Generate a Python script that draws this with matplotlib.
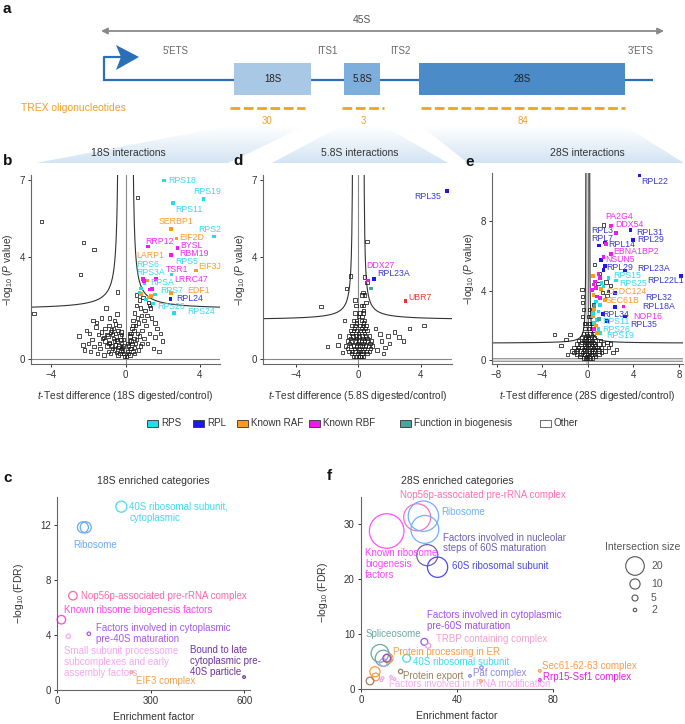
import numpy as np
import matplotlib
matplotlib.use('Agg')
import matplotlib.pyplot as plt
from matplotlib.patches import Rectangle, Polygon
from matplotlib.colors import LinearSegmentedColormap

plt.rcParams['font.family'] = ['Liberation Sans', 'DejaVu Sans']
plt.rcParams['mathtext.fontset'] = 'custom'
plt.rcParams['mathtext.rm'] = 'Liberation Sans'
plt.rcParams['mathtext.it'] = 'Liberation Sans:italic'

# ---------------- data ----------------
oligo_regions = ['18S', '5.8S', '28S']
oligo_counts = [30, 3, 84]

cat_names = ['RPS', 'RPL', 'Known RAF', 'Known RBF', 'Function in biogenesis', 'Other']
cat_colors = {'RPS': '#1fe0ea', 'RPL': '#1a1af0', 'RAF': '#ff9a1f',
              'RBF': '#f01af0', 'BIO': '#4aa39c', 'UBR': '#ee3030'}
txt_colors = {'RPS': '#3ad8ee', 'RPL': '#3a3ad6', 'RAF': '#ff9a2a',
              'RBF': '#ee30ee', 'BIO': '#4aa39c', 'UBR': '#ee3b3b'}

# 18S volcano: significant hits
b_pt_x = [2.08, 4.21, 2.58, 2.44, 4.77, 2.76, 1.22, 2.80, 2.44, 3.82, 2.48, 1.65, 0.95, 2.44, 2.42, 1.49, 2.60,
          0.83, 0.85, 1.18, 1.33, 1.44, 1.38, 1.58, 1.10, 1.02, 1.25, 0.75, 1.00]
b_pt_y = [6.99, 6.25, 6.10, 5.08, 4.79, 4.72, 4.40, 4.35, 4.07, 3.46, 3.30, 3.12, 3.14, 2.58, 2.35, 2.17, 1.80,
          2.75, 2.55, 3.07, 2.72, 2.74, 2.45, 2.52, 2.32, 2.95, 2.40, 2.60, 3.05]
b_pt_cat = ['RPS', 'RPS', 'RPS', 'RAF', 'RPS', 'RAF', 'RBF', 'RBF', 'RBF', 'RAF', 'RPS', 'RBF', 'RBF', 'RAF', 'RPL', 'RPS', 'RPS',
            'RPS', 'RAF', 'RAF', 'RBF', 'RBF', 'RAF', 'RPS', 'RPS', 'RPS', 'RAF', 'RPS', 'RBF']
b_lab = ['RPS18', 'RPS19', 'RPS11', 'SERBP1', 'RPS2', 'EIF2D', 'RRP12', 'BYSL', 'LARP1', 'RBM19', 'RPS5', 'RPS6',
         'EIF3J', 'TSR1', 'RPS3A', 'LRRC47', 'RPSA', 'RPS7', 'EDF1', 'RPL24', 'RPS26', 'RPS24']
b_lab_cat = ['RPS', 'RPS', 'RPS', 'RAF', 'RPS', 'RAF', 'RBF', 'RBF', 'RAF', 'RBF', 'RPS', 'RPS',
             'RAF', 'RBF', 'RPS', 'RBF', 'RPS', 'RPS', 'RAF', 'RPL', 'RPS', 'RPS']

b_other = [(-4.52, 5.37), (-2.27, 4.56), (-1.7, 4.28), (-2.42, 3.3), (-4.94, 1.78), (0.65, 6.32), (-0.43, 2.62), (1.3, 2.1),
           (-2.5, 0.9), (-2.3, 0.55), (-2.1, 1.1), (-2.0, 0.61), (-1.95, 1.0), (-1.9, 0.3), (-1.8, 0.75), (-1.7, 0.48),
           (-1.6, 1.25), (-1.56, 1.43), (-1.5, 0.2), (-1.45, 0.95), (-1.4, 0.61), (-1.38, 0.4), (-1.3, 1.6), (-1.25, 0.8),
           (-1.2, 0.84), (-1.15, 0.15), (-1.1, 1.2), (-1.05, 2.0), (-1.0, 0.5), (-0.95, 0.9), (-0.93, 0.28), (-0.9, 1.3),
           (-0.85, 0.65), (-0.8, 1.05), (-0.75, 1.13), (-0.7, 0.4), (-0.65, 0.8), (-0.6, 1.5), (-0.55, 1.0), (-0.53, 1.36),
           (-0.5, 0.25), (-0.45, 0.7), (-0.4, 1.1), (-0.35, 0.5), (-0.3, 0.9), (-0.25, 0.35), (-0.2, 0.6), (-0.15, 0.3),
           (-0.1, 0.2), (-0.05, 0.1), (-0.9, 0.6), (-0.7, 0.95), (-0.6, 0.35), (-0.5, 0.75), (-0.4, 0.45), (-0.3, 0.2),
           (-0.2, 0.95), (-0.1, 0.5), (-0.35, 1.3), (-0.25, 0.75), (-0.15, 0.45), (-1.1, 0.7), (-0.8, 0.2), (-1.3, 1.05),
           (-0.65, 1.2), (-2.2, 0.35), (-1.75, 1.5), (-0.45, 1.75), (-0.85, 1.6), (-0.55, 0.55), (-0.25, 1.05),
           (-0.75, 0.5), (-1.0, 0.95), (-0.4, 0.15), (-0.2, 0.4), (-0.1, 0.75), (-0.6, 0.7),
           (0.05, 0.1), (0.1, 0.3), (0.15, 0.5), (0.2, 0.7), (0.25, 0.9), (0.3, 0.4), (0.35, 1.2), (0.4, 1.5), (0.45, 0.8),
           (0.5, 1.8), (0.55, 0.6), (0.6, 2.1), (0.65, 1.0), (0.7, 1.4), (0.75, 2.3), (0.8, 0.5), (0.85, 1.7), (0.9, 1.1),
           (0.95, 2.4), (1.0, 0.8), (1.05, 1.9), (1.1, 1.3), (1.2, 0.6), (1.25, 2.2), (1.3, 1.0), (1.4, 1.6), (1.5, 0.4),
           (1.6, 0.85), (1.7, 1.2), (1.8, 0.3), (2.0, 0.7), (0.5, 0.2), (0.6, 2.5), (0.7, 0.35), (0.8, 2.0), (0.9, 0.6),
           (1.0, 1.5), (0.15, 0.2), (0.25, 0.4), (0.3, 0.7), (0.4, 0.3), (0.45, 1.1), (0.55, 1.3), (0.2, 1.0), (0.35, 0.6),
           (1.15, 1.7), (1.35, 2.0), (1.6, 1.4), (1.9, 1.0), (0.75, 0.9), (0.65, 1.6), (0.1, 0.6), (0.3, 1.0),
           (0.5, 0.45), (0.25, 0.15), (0.6, 0.75), (0.4, 1.3)]

# 5.8S volcano
d_pt_x = [5.68, 0.61, 0.99, 0.82, 3.02]
d_pt_y = [6.58, 3.07, 3.14, 2.75, 2.27]
d_pt_cat = ['RPL', 'RBF', 'RPL', 'BIO', 'UBR']
d_lab = ['RPL35', 'DDX27', 'RPL23A', 'UBR7']
d_lab_cat = ['RPL', 'RBF', 'RPL', 'UBR']

d_other = [(0.55, 4.59), (-2.38, 2.04), (4.2, 1.3), (3.28, 1.18), (-1.96, 0.48), (-0.76, 2.75), (-0.48, 3.25), (2.3, 1.06),
           (1.4, 0.98), (2.0, 0.6), (1.7, 0.45), (2.6, 0.85), (1.2, 0.35), (0.9, 0.5), (-1.2, 0.9), (-1.0, 0.25),
           (-1.3, 0.55), (0.4, 3.2), (0.55, 3.0), (0.3, 2.6), (-0.2, 2.3), (0.5, 2.2), (0.35, 1.9), (-0.9, 1.5), (1.1, 1.2),
           (1.6, 0.2), (1.5, 0.7), (1.9, 0.9), (2.9, 0.7),
           (-0.3, 0.1), (-0.15, 0.1), (0.0, 0.1), (0.1, 0.1), (0.2, 0.1), (0.35, 0.1),
           (-0.6, 0.3), (-0.4, 0.3), (-0.2, 0.3), (0.0, 0.3), (0.15, 0.3), (0.3, 0.3), (0.5, 0.3), (0.7, 0.3),
           (-0.8, 0.5), (-0.5, 0.5), (-0.3, 0.5), (-0.1, 0.5), (0.1, 0.5), (0.25, 0.5), (0.45, 0.5), (0.65, 0.5),
           (-0.7, 0.7), (-0.4, 0.7), (-0.2, 0.7), (0.0, 0.7), (0.2, 0.7), (0.4, 0.7), (0.6, 0.7), (0.85, 0.7),
           (-0.6, 0.9), (-0.35, 0.9), (-0.15, 0.9), (0.05, 0.9), (0.25, 0.9), (0.45, 0.9), (0.7, 0.9),
           (-0.5, 1.1), (-0.3, 1.1), (-0.1, 1.1), (0.15, 1.1), (0.35, 1.1), (0.55, 1.1),
           (-0.4, 1.3), (-0.2, 1.3), (0.1, 1.3), (0.3, 1.3), (0.5, 1.3),
           (-0.3, 1.5), (-0.1, 1.5), (0.2, 1.5), (0.4, 1.5),
           (-0.2, 1.8), (0.1, 1.8), (0.3, 1.8), (-0.15, 2.1), (0.2, 2.1), (0.35, 2.1), (0.25, 2.5), (0.4, 2.5),
           (-0.45, 0.2), (-0.05, 0.2), (0.25, 0.2), (0.55, 0.2), (-0.7, 0.4), (-0.25, 0.4), (0.05, 0.4), (0.4, 0.4),
           (0.8, 0.4), (-0.55, 0.6), (-0.05, 0.6), (0.3, 0.6), (0.75, 0.6), (-0.5, 0.8), (-0.1, 0.8), (0.3, 0.8),
           (0.55, 0.8), (-0.4, 1.0), (0.0, 1.0), (0.4, 1.0), (-0.25, 1.2), (0.2, 1.2), (0.45, 1.2), (-0.1, 1.4),
           (0.35, 1.4), (0.0, 1.65), (0.25, 1.65)]

# 28S volcano
e_pt = [(4.53, 10.65, 'RPL'), (2.04, 7.76, 'RBF'), (2.48, 7.32, 'RBF'), (3.74, 7.51, 'RPL'), (3.94, 6.94, 'RPL'),
        (1.52, 6.78, 'RPL'), (0.99, 6.61, 'RPL'), (1.6, 6.7, 'RBF'), (2.02, 6.11, 'RBF'), (1.14, 5.78, 'RPL'),
        (1.37, 5.93, 'RBF'), (1.52, 5.43, 'RPL'), (1.37, 5.2, 'RPL'), (3.27, 5.16, 'RPL'), (8.19, 4.86, 'RPL'),
        (0.44, 4.86, 'RAF'), (0.93, 4.97, 'RBF'), (1.08, 4.72, 'RBF'), (1.81, 4.72, 'RPS'), (2.48, 4.59, 'RPS'),
        (0.49, 4.34, 'RBF'), (0.73, 4.14, 'RBF'), (1.14, 4.08, 'RAF'), (1.37, 4.24, 'RPS'), (1.81, 3.95, 'RPL'),
        (2.4, 3.85, 'RPL'), (0.79, 3.66, 'RBF'), (0.5, 3.76, 'RAF'), (1.08, 3.56, 'RBF'), (1.52, 3.47, 'RAF'),
        (0.73, 3.37, 'RPS'), (3.12, 3.08, 'RBF'), (2.4, 3.04, 'RPL'), (1.08, 3.18, 'RPS'), (0.55, 2.93, 'RAF'),
        (0.93, 2.79, 'RPS'), (1.31, 2.64, 'RPL'), (0.44, 2.5, 'RAF'), (3.27, 2.5, 'RPL'), (0.79, 2.31, 'RPS'),
        (0.55, 2.12, 'RPS'), (0.73, 1.97, 'RAF'), (0.93, 1.77, 'RPS'), (0.55, 1.77, 'RBF'), (1.08, 1.54, 'RPS'),
        (0.79, 1.54, 'RAF'), (1.66, 2.22, 'RPL'), (0.44, 2.7, 'RPS'), (0.35, 4.05, 'RBF'), (0.64, 4.53, 'RBF'),
        (1.2, 4.45, 'RPS'), (0.6, 3.1, 'BIO'), (1.0, 2.35, 'BIO')]
e_lab = ['RPL22', 'PA2G4', 'DDX54', 'RPL3', 'RPL31', 'RPL7', 'RPL29', 'RPL14', 'EBNA1BP2', 'NSUN5', 'RPL29',
         'RPL23A', 'RPS15', 'RPL22L1', 'RPS25', 'CCDC124', 'RPL32', 'SEC61B', 'RPL18A', 'NOP16', 'RPL34', 'RPL35',
         'RPS11', 'RPS26', 'RPS19']
e_lab_cat = ['RPL', 'RBF', 'RBF', 'RPL', 'RPL', 'RPL', 'RPL', 'RPL', 'RBF', 'RBF', 'RPL',
             'RPL', 'RPS', 'RPL', 'RPS', 'RAF', 'RPL', 'RAF', 'RPL', 'RBF', 'RPL', 'RPL',
             'RPS', 'RPS', 'RPS']

e_other = [(-2.93, 1.45), (-1.9, 1.16), (-1.55, 1.45), (-2.34, 0.81), (-0.5, 4.05), (-0.44, 3.66), (-0.44, 3.3),
           (-0.4, 2.9), (-0.45, 2.5), (-0.3, 2.1), (1.37, 7.8), (0.6, 5.5), (0.9, 4.4), (1.3, 3.9), (0.5, 3.2),
           (1.6, 4.5), (1.0, 5.0), (2.0, 4.3), (1.7, 3.7), (2.0, 0.9), (2.5, 0.6), (1.7, 1.0), (2.2, 0.4), (-1.8, 0.3),
           (-0.4, 0.1), (-0.2, 0.1), (0.0, 0.1), (0.2, 0.1), (0.4, 0.1),
           (-1.0, 0.3), (-0.6, 0.3), (-0.3, 0.3), (0.0, 0.3), (0.3, 0.3), (0.6, 0.3), (1.0, 0.3),
           (-1.4, 0.5), (-1.0, 0.5), (-0.6, 0.5), (-0.3, 0.5), (-0.1, 0.5), (0.1, 0.5), (0.3, 0.5), (0.6, 0.5),
           (1.0, 0.5), (1.5, 0.5),
           (-1.2, 0.7), (-0.8, 0.7), (-0.5, 0.7), (-0.2, 0.7), (0.0, 0.7), (0.2, 0.7), (0.5, 0.7), (0.8, 0.7),
           (1.2, 0.7), (1.8, 0.7),
           (-1.0, 0.9), (-0.6, 0.9), (-0.3, 0.9), (-0.1, 0.9), (0.1, 0.9), (0.3, 0.9), (0.6, 0.9), (1.0, 0.9), (1.4, 0.9),
           (-0.8, 1.1), (-0.4, 1.1), (-0.15, 1.1), (0.1, 1.1), (0.35, 1.1), (0.7, 1.1), (1.1, 1.1),
           (-0.5, 1.3), (-0.2, 1.3), (0.05, 1.3), (0.3, 1.3), (0.6, 1.3),
           (-0.35, 1.5), (-0.1, 1.5), (0.2, 1.5), (0.45, 1.5), (-0.25, 1.8), (0.1, 1.8), (0.35, 1.8),
           (-0.2, 2.1), (0.15, 2.1), (0.3, 2.1), (0.1, 2.5), (0.25, 2.5), (0.15, 2.9),
           (-0.7, 0.2), (-0.1, 0.2), (0.1, 0.2), (0.7, 0.2), (-1.2, 0.4), (-0.45, 0.4), (0.15, 0.4), (0.45, 0.4),
           (1.2, 0.4), (-0.9, 0.6), (-0.4, 0.6), (0.4, 0.6), (0.9, 0.6), (-0.3, 0.8), (0.35, 0.8), (0.7, 0.8),
           (-0.5, 1.0), (0.0, 1.0), (0.5, 1.0), (-0.3, 1.2), (0.2, 1.2), (0.0, 1.4)]

# enrichment bubbles, 18S
c_terms = ['40S ribosomal subunit, cytoplasmic', 'Ribosome', 'Ribosome', 'Nop56p-associated pre-rRNA complex',
           'Known ribsome biogenesis factors',
           'Small subunit processome subcomplexes and early assembly factors',
           'Factors involved in cytoplasmic pre-40S maturation', 'EIF3 complex',
           'Bound to late cytoplasmic pre-40S particle']
c_enrich = [206, 83, 92, 51, 14, 36, 102, 238, 599]
c_fdr = [13.3, 11.8, 11.8, 6.84, 5.1, 3.9, 4.08, 1.3, 0.94]
c_size = [11, 11, 11, 8, 8, 3, 2, 1, 1]
c_colors = ['#40dcef', '#6aaaf2', '#6aaaf2', '#ff66aa', '#ff44ee', '#f4a8f0', '#a458f0', '#f5a050', '#7033a0']

# enrichment bubbles, 28S
f_enrich = [10.7, 23.4, 26.0, 26.6, 27.6, 31.9, 7.9, 9.3, 26.4, 28.0, 11.4, 5.8, 6.1, 19.0, 16.5, 45.4, 50.2,
            74.5, 74.5, 9.0, 12.5, 14.0, 8.5, 3.75, 50.0, 9.3, 10.7]
f_fdr = [28.8, 31.3, 31.5, 29.1, 24.4, 22.2, 6.5, 5.6, 8.6, 7.9, 5.6, 3.15, 2.2, 5.6, 3.2, 2.4, 3.9,
         3.3, 1.64, 2.0, 2.2, 1.8, 1.6, 1.46, 1.46, 4.8, 5.6]
f_size = [39, 30, 34, 31, 23, 22, 19, 17, 6, 4, 9, 10, 7, 7, 3, 1, 2,
          1, 1, 1, 1, 1, 1, 7, 1, 7, 7]
f_colors = ['#ff50ff', '#ff70b0', '#70b0ff', '#70b0ff', '#7060b0', '#4a4aee', '#6fa8a0', '#6fa8a0', '#a050f0',
            '#f0a0d0', '#ff9a40', '#ff9a40', '#ff9a40', '#33e0f0', '#a08060', '#8888ee', '#8888ee',
            '#ff9a50', '#e020e0', '#f5aaf0', '#f5aaf0', '#f5aaf0', '#f5aaf0', '#a08060', '#ff9a50', '#b0a0f0', '#9050c0']
legend_sizes = [20, 10, 5, 2]

# ---------------- layout ----------------
W, H = 685, 724
fig = plt.figure(figsize=(W / 100, H / 100), dpi=100)


def fax(l, t, r, b):
    return fig.add_axes([l / W, 1 - b / H, (r - l) / W, (b - t) / H])


def s_of(size):
    r = 0.42 * size + 0.9
    return (2 * r * 0.72) ** 2


ax0 = fig.add_axes([0, 0, 1, 1])
ax0.set_facecolor('none')

# fans from the rRNA regions to the panel titles
fan_cmap = LinearSegmentedColormap.from_list('fan', ['#ffffff', '#d3e4f3'])
grad = np.linspace(0, 1, 64).reshape(-1, 1)
fans = [[(229, 126), (305, 126), (228, 163), (36, 163)],
        [(341, 126), (384, 126), (448, 163), (272, 163)],
        [(421, 126), (625, 126), (684, 163), (468, 163)]]
for poly in fans:
    p = Polygon(poly, closed=True, fc='none', ec='none')
    ax0.add_patch(p)
    xs = [q[0] for q in poly]
    im = ax0.imshow(grad, cmap=fan_cmap, extent=(min(xs), max(xs), 163, 126), origin='upper',
                    aspect='auto', zorder=0)
    im.set_clip_path(p)

# panel a schematic
gene_c = '#2a6fb8'
ax0.annotate('', xy=(664, 31), xytext=(101, 31),
             arrowprops=dict(arrowstyle='<|-|>', color='#8a8a8a', lw=1.3, mutation_scale=9, shrinkA=0, shrinkB=0))
ax0.text(362, 20, '45S', ha='center', va='center', fontsize=7.5, color='#555')
ax0.plot([104, 653], [80, 80], color=gene_c, lw=1.6, solid_capstyle='butt')
ax0.plot([104, 104, 122], [80, 57, 57], color=gene_c, lw=1.6)
ax0.add_patch(Polygon([(116, 45), (139, 57), (116, 70), (121, 57)], closed=True, fc=gene_c, ec='none'))
box_x = [(234, 311, '#a9c8e6'), (344, 380, '#7eaedb'), (419, 625, '#4a8bc8')]
for (x0, x1, col), name in zip(box_x, oligo_regions):
    ax0.add_patch(Rectangle((x0, 63), x1 - x0, 32, fc=col, ec='none', zorder=2))
    ax0.text((x0 + x1) / 2, 79, name, ha='center', va='center', fontsize=7, color='#222', zorder=3)
for x, t in [(176, "5'ETS"), (327, 'ITS1'), (400, 'ITS2'), (641, "3'ETS")]:
    ax0.text(x, 51, t, ha='center', va='center', fontsize=7, color='#666')
orange = '#f5a020'
dash_x = [(230, 305), (342, 384), (421, 625)]
for (x0, x1), n in zip(dash_x, oligo_counts):
    ax0.plot([x0, x1], [108, 108], color=orange, lw=2, linestyle=(0, (3.5, 1.3)), solid_capstyle='butt')
    ax0.text((x0 + x1) / 2, 121, str(n), ha='center', va='center', fontsize=7, color=orange)
ax0.text(21, 108, 'TREX oligonucleotides', ha='left', va='center', fontsize=7.5, color=orange)

for x, t in [(128, '18S interactions'), (360, '5.8S interactions'), (587, '28S interactions')]:
    ax0.text(x, 153, t, ha='center', va='center', fontsize=7.5, color='#333')

for x, y, t in [(3, 9, 'a'), (3, 161, 'b'), (233, 161, 'd'), (465, 162, 'e'), (3, 478, 'c'), (327, 476, 'f')]:
    ax0.text(x, y, t, ha='left', va='center', fontsize=11, fontweight='bold', color='#111')

# legend of hit categories
leg_x = [147, 193, 237, 309, 400, 540]
leg_fc = [cat_colors[k] for k in ['RPS', 'RPL', 'RAF', 'RBF', 'BIO']] + ['white']
for x, fc, name in zip(leg_x, leg_fc, cat_names):
    ax0.add_patch(Rectangle((x, 419.5), 11, 7, fc=fc, ec='#555' if name == 'Other' else '#333', lw=0.6))
    ax0.text(x + 14, 423, name, ha='left', va='center', fontsize=7.1, color='#333')

# size legend for panel f
ax0.text(605, 547, 'Intersection size', ha='left', va='center', fontsize=7.5, color='#555')
for y, sz in zip([566, 584, 598, 610], legend_sizes):
    ax0.scatter([635], [y], s=s_of(sz), facecolors='none', edgecolors='#555', linewidths=0.8)
    ax0.text(651, y, str(sz), ha='left', va='center', fontsize=7.5, color='#555')

ax0.set_xlim(0, W)
ax0.set_ylim(H, 0)
ax0.axis('off')


def style_axes(ax):
    ax.set_facecolor('none')
    for s in ['top', 'right']:
        ax.spines[s].set_visible(False)
    for s in ['left', 'bottom']:
        ax.spines[s].set_color('#666')
        ax.spines[s].set_linewidth(0.8)
    ax.tick_params(labelsize=7, colors='#333', length=2.5, width=0.7, pad=2)


def volcano(ax, other, px, py, pcat, labs, labcats, labpos, xlim, ylim, xticks, yticks, curve, region, thick=False):
    style_axes(ax)
    a, c, x0 = curve
    if thick:
        ax.axvspan(-x0, x0, fc='#cfcfcf', ec='none', zorder=1)
        ax.axhspan(-0.09, 0.09, fc='#d6d6d6', ec='#777', lw=0.5, zorder=1)
        ax.axvline(0, color='#666', lw=0.6, zorder=1)
    else:
        ax.axvline(0, color='#888', lw=0.8, zorder=1)
        ax.axhline(0, color='#888', lw=0.8, zorder=1)
    xx = np.linspace(x0 + 1e-3, xlim[1] + 0.5, 600)
    yy = a + c / (xx - x0)
    ax.plot(xx, yy, color='#333', lw=0.8, zorder=2)
    ax.plot(-xx, yy, color='#333', lw=0.8, zorder=2)
    ox = [p[0] for p in other]
    oy = [p[1] for p in other]
    ax.scatter(ox, oy, s=6, marker='s', facecolors='none', edgecolors='#1a1a1a', linewidths=0.55, zorder=3)
    ax.scatter(px, py, s=7, marker='s', c=[cat_colors[k] for k in pcat], linewidths=0, zorder=4)
    for name, k, (tx, ty, ha) in zip(labs, labcats, labpos):
        ax.text(tx, ty, name, ha=ha, va='center', fontsize=6.3, color=txt_colors[k], zorder=5)
    ax.set_xlim(*xlim)
    ax.set_ylim(*ylim)
    ax.set_xticks(xticks)
    ax.set_yticks(yticks)
    ax.set_xticklabels([f'{t:g}'.replace('-', '−') for t in xticks])
    ax.set_xlabel('$\\it{t}$-Test difference (' + region + ' digested/control)', fontsize=7.3, color='#333', labelpad=6)
    ax.set_ylabel('−log$_{10}$ ($\\it{P}$ value)', fontsize=7.3, color='#333', labelpad=3)


b_lab_pos = [(2.3, 6.99, 'left'), (3.67, 6.54, 'left'), (2.71, 5.86, 'left'), (1.81, 5.37, 'left'),
             (3.91, 5.07, 'left'), (2.92, 4.76, 'left'), (1.04, 4.6, 'left'), (2.98, 4.44, 'left'),
             (0.56, 4.05, 'left'), (2.92, 4.11, 'left'), (2.68, 3.83, 'left'), (0.56, 3.68, 'left'),
             (3.91, 3.62, 'left'), (2.19, 3.5, 'left'), (0.56, 3.37, 'left'), (2.65, 3.12, 'left'),
             (1.35, 2.98, 'left'), (1.9, 2.66, 'left'), (3.33, 2.68, 'left'), (2.74, 2.36, 'left'),
             (1.71, 2.04, 'left'), (3.33, 1.87, 'left')]
ax_b = fax(31, 175, 220, 364)
volcano(ax_b, b_other, b_pt_x, b_pt_y, b_pt_cat, b_lab, b_lab_cat, b_lab_pos,
        (-5.1, 5.1), (-0.2, 7.2), [-4, 0, 4], [0, 4, 7], (1.93, 0.455, 0.34), '18S')

d_lab_pos = [(5.32, 6.36, 'right'), (0.53, 3.66, 'left'), (1.2, 3.33, 'left'), (3.21, 2.4, 'left')]
ax_d = fax(263, 175, 452, 364)
volcano(ax_d, d_other, d_pt_x, d_pt_y, d_pt_cat, d_lab, d_lab_cat, d_lab_pos,
        (-6.1, 6.0), (-0.2, 7.2), [-4, 0, 4], [0, 4, 7], (1.52, 0.315, 0.32), '5.8S')

e_lab_pos = [(4.73, 10.3, 'left'), (1.52, 8.28, 'left'), (2.4, 7.84, 'left'), (0.29, 7.46, 'left'),
             (4.21, 7.38, 'left'), (0.29, 6.99, 'left'), (4.3, 6.94, 'left'), (1.81, 6.65, 'left'),
             (2.25, 6.26, 'left'), (1.52, 5.78, 'left'), (1.6, 5.34, 'left'), (4.3, 5.3, 'left'),
             (2.19, 4.86, 'left'), (5.2, 4.57, 'left'), (2.78, 4.43, 'left'), (1.6, 3.95, 'left'),
             (5.03, 3.58, 'left'), (1.6, 3.43, 'left'), (4.79, 3.06, 'left'), (3.95, 2.52, 'left'),
             (1.31, 2.64, 'left'), (3.71, 2.06, 'left'), (1.23, 2.18, 'left'), (1.23, 1.77, 'left'),
             (1.58, 1.38, 'left')]
ax_e = fax(492, 173, 683, 364)
volcano(ax_e, e_other, [p[0] for p in e_pt], [p[1] for p in e_pt], [p[2] for p in e_pt],
        e_lab, e_lab_cat, e_lab_pos, (-8.4, 8.35), (-0.25, 10.8), [-8, -4, 0, 4, 8], [0, 4, 8],
        (0.95, 0.175, 0.15), '28S', thick=True)

# panel c
ax_c = fax(57, 497, 250, 690)
style_axes(ax_c)
ax_c.scatter(c_enrich, c_fdr, s=[s_of(v) for v in c_size], facecolors='none', edgecolors=c_colors,
             linewidths=0.9, clip_on=False)
c_text = [('40S ribosomal subunit,\ncytoplasmic', 232, 12.9, 0), ('Ribosome', 123, 10.55, 1),
          ('Nop56p-associated pre-rRNA complex', 78, 6.84, 3), ('Known ribsome biogenesis factors', 21, 5.77, 4),
          ('Factors involved in cytoplasmic\npre-40S maturation', 126, 4.1, 6),
          ('Small subunit processome\nsubcomplexes and early\nassembly factors', 21, 2.05, 5),
          ('Bound to late\ncytoplasmic pre-\n40S particle', 425, 2.1, 8), ('EIF3 complex', 252, 0.65, 7)]
for t, x, y, i in c_text:
    ha = 'center' if t == 'Ribosome' else 'left'
    ax_c.text(x, y, t, ha=ha, va='center', fontsize=7, color=c_colors[i], linespacing=1.1)
ax_c.set_xlim(0, 618)
ax_c.set_ylim(0, 14)
ax_c.set_xticks([0, 300, 600])
ax_c.set_yticks([0, 4, 8, 12])
ax_c.set_xlabel('Enrichment factor', fontsize=7.5, color='#333', labelpad=4)
ax_c.set_ylabel('−log$_{10}$ (FDR)', fontsize=7.5, color='#333', labelpad=10)
ax_c.set_title('18S enriched categories', fontsize=7.5, color='#333', pad=9)

# panel f
ax_f = fax(361, 497, 553, 689)
style_axes(ax_f)
ax_f.scatter(f_enrich, f_fdr, s=[s_of(v) for v in f_size], facecolors='none', edgecolors=f_colors,
             linewidths=0.9, clip_on=False)
f_text = [('Nop56p-associated pre-rRNA complex', 16.2, 35.3, '#ff70b0'), ('Ribosome', 33.6, 32.2, '#70b0ff'),
          ('Factors involved in nucleolar\nsteps of 60S maturation', 34.0, 26.6, '#7060b0'),
          ('Known ribosome\nbiogenesis\nfactors', 1.7, 22.8, '#ff44ff'),
          ('60S ribosomal subunit', 38.0, 22.4, '#4a4aee'),
          ('Factors involved in cytoplasmic\npre-60S maturation', 27.3, 12.5, '#a050f0'),
          ('Spliceosome', 1.7, 9.96, '#6fa8a0'), ('TRBP containing complex', 31.2, 9.1, '#f0a0d0'),
          ('Protein processing in ER', 13.5, 6.74, '#ff9a40'), ('40S ribosomal subunit', 21.5, 5.0, '#33e0f0'),
          ('Sec61-62-63 complex', 75.6, 4.2, '#ff9a50'), ('Protein export', 17.6, 2.37, '#a08060'),
          ('Paf complex', 46.5, 2.85, '#8888ee'), ('Rrp15-Ssf1 complex', 76.0, 2.25, '#e020e0'),
          ('Factors involved in rRNA modification', 11.8, 0.85, '#f5aaf0')]
for t, x, y, col in f_text:
    ax_f.text(x, y, t, ha='left', va='center', fontsize=7, color=col, linespacing=1.1)
ax_f.set_xlim(0, 80)
ax_f.set_ylim(0, 35)
ax_f.set_xticks([0, 40, 80])
ax_f.set_yticks([0, 10, 20, 30])
ax_f.set_xlabel('Enrichment factor', fontsize=7.5, color='#333', labelpad=4)
ax_f.set_ylabel('−log$_{10}$ (FDR)', fontsize=7.5, color='#333', labelpad=10)
ax_f.set_title('28S enriched categories', fontsize=7.5, color='#333', pad=9)

fig.savefig('out.png', dpi=100)
